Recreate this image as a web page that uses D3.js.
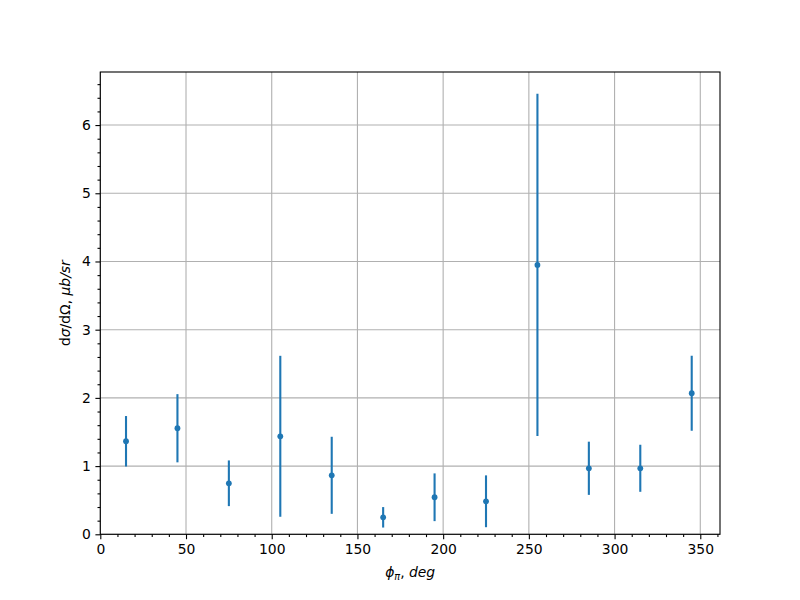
<!DOCTYPE html>
<html><head><meta charset="utf-8">
<script src="https://cdn.jsdelivr.net/npm/d3@7"></script>
<style>body{margin:0;background:#fff}text{font-family:"DejaVu Sans",sans-serif}</style>
</head><body><svg id="c" width="800" height="600"></svg>
<script>
const phi = [15, 45, 75, 105, 135, 165, 195, 225, 255, 285, 315, 345];
const sigma = [1.364, 1.555, 0.748, 1.437, 0.865, 0.249, 0.543, 0.484, 3.95, 0.968, 0.968, 2.068];
const sigmaErr = [0.37, 0.50, 0.335, 1.18, 0.565, 0.15, 0.35, 0.38, 2.51, 0.39, 0.345, 0.55];
const xTicks = [0, 50, 100, 150, 200, 250, 300, 350];
const yTicks = [0, 1, 2, 3, 4, 5, 6];

const svg = d3.select("#c");
const L = 100.3, R = 720, T = 72, B = 534.3;
const xmax = d3.max(phi), xmin = d3.min(phi);
const x = d3.scaleLinear().domain([0, xmax + 0.05 * (xmax - xmin)]).range([L, R]);
const hi = d3.max(sigma.map((v, i) => v + sigmaErr[i]));
const lo = d3.min(sigma.map((v, i) => v - sigmaErr[i]));
const y = d3.scaleLinear().domain([0, hi + 0.05 * (hi - lo)]).range([B, T]);

const blue = "#1f77b4";
// grid
const g = svg.append("g");
xTicks.forEach(t => g.append("line").attr("x1", x(t)).attr("x2", x(t)).attr("y1", T).attr("y2", B)
  .attr("stroke", "#b0b0b0").attr("stroke-width", 1.1));
yTicks.forEach(t => g.append("line").attr("x1", L).attr("x2", R).attr("y1", y(t)).attr("y2", y(t))
  .attr("stroke", "#b0b0b0").attr("stroke-width", 1.1));

// axes
const xMinor = d3.range(0, 361, 10).filter(v => v % 50 !== 0);
const yMinor = d3.range(0, 6.8, 0.2).filter(v => Math.abs(v - Math.round(v)) > 1e-6);
const xAxis = svg.append("g").attr("transform", `translate(0,${B})`)
  .call(d3.axisBottom(x).tickValues(xTicks).tickSize(4.9).tickPadding(4.5).tickFormat(d3.format("d")));
const xAxisMinor = svg.append("g").attr("transform", `translate(0,${B})`)
  .call(d3.axisBottom(x).tickValues(xMinor).tickSize(2.8).tickFormat(""));
const yAxis = svg.append("g").attr("transform", `translate(${L},0)`)
  .call(d3.axisLeft(y).tickValues(yTicks).tickSize(4.9).tickPadding(4.5).tickFormat(d3.format("d")));
const yAxisMinor = svg.append("g").attr("transform", `translate(${L},0)`)
  .call(d3.axisLeft(y).tickValues(yMinor).tickSize(2.8).tickFormat(""));
[xAxis, xAxisMinor, yAxis, yAxisMinor].forEach(a => {
  a.select(".domain").remove();
  a.selectAll("line").attr("stroke", "#000").attr("stroke-width", 1.1);
  a.selectAll("text").attr("font-size", 13.9).attr("fill", "#000").style("font-family", "DejaVu Sans");
});

// error bars
const pts = phi.map((p, i) => ({p, v: sigma[i], e: sigmaErr[i]}));
svg.append("g").selectAll("line").data(pts).join("line")
  .attr("x1", d => x(d.p)).attr("x2", d => x(d.p))
  .attr("y1", d => y(d.v - d.e)).attr("y2", d => y(d.v + d.e))
  .attr("stroke", blue).attr("stroke-width", 2.1);
svg.append("g").selectAll("circle").data(pts).join("circle")
  .attr("cx", d => x(d.p)).attr("cy", d => y(d.v)).attr("r", 2.9).attr("fill", blue);

// frame
svg.append("rect").attr("x", L).attr("y", T).attr("width", R - L).attr("height", B - T)
  .attr("fill", "none").attr("stroke", "#000").attr("stroke-width", 1.1);

// labels
const xl = svg.append("text").attr("x", (L + R) / 2).attr("y", 577).attr("text-anchor", "middle")
  .attr("font-size", 13.9);
xl.append("tspan").attr("font-style", "italic").text("ϕ");
xl.append("tspan").attr("font-style", "italic").attr("font-size", 9.7).attr("dy", 2.5).text("π");
xl.append("tspan").attr("dy", -2.5).text(", ");
xl.append("tspan").attr("font-style", "italic").text("deg");

const yl = svg.append("text").attr("transform", `translate(70,${(T + B) / 2}) rotate(-90)`)
  .attr("text-anchor", "middle").attr("font-size", 13.9);
yl.append("tspan").text("d");
yl.append("tspan").attr("font-style", "italic").text("σ");
yl.append("tspan").text("/dΩ, ");
yl.append("tspan").attr("font-style", "italic").text("μb/sr");
</script></body></html>
